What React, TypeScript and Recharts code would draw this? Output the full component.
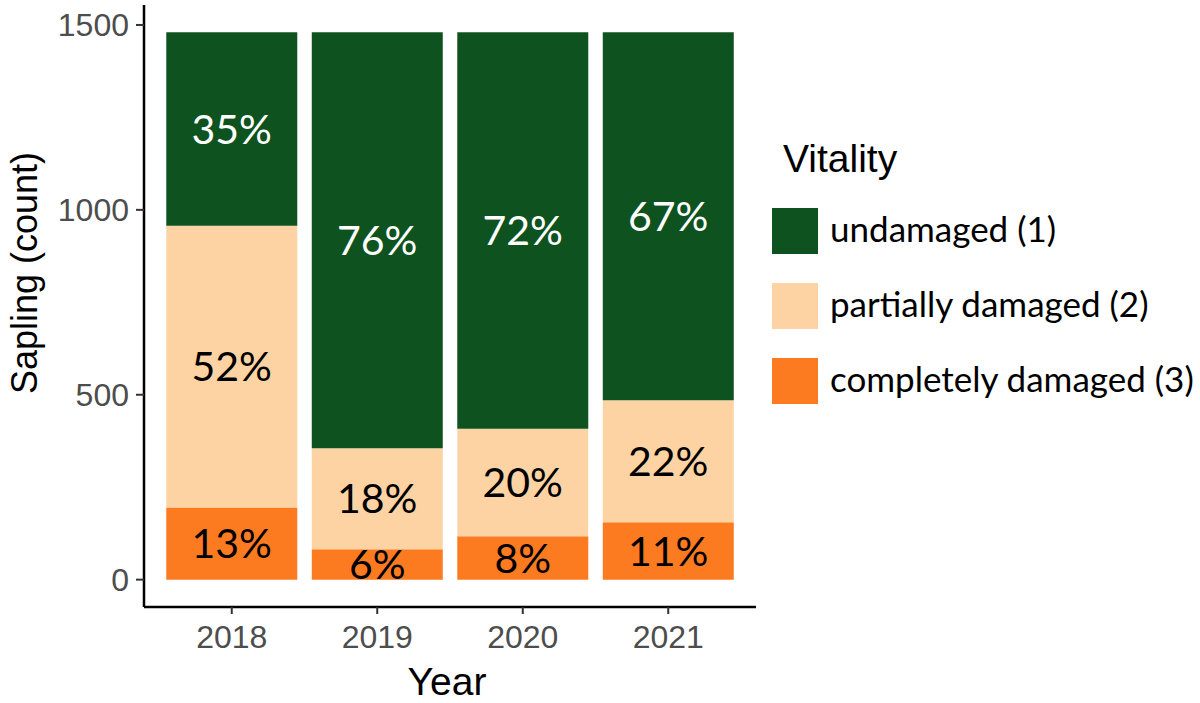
import React from 'react'
import { BarChart, Bar, XAxis, YAxis, LabelList } from 'recharts'

const years = ['2018', '2019', '2020', '2021']
const undamaged = [523, 1125, 1072, 995]
const partial = [762, 273, 291, 330]
const complete = [195, 82, 117, 155]
const undamagedPct = ['35%', '76%', '72%', '67%']
const partialPct = ['52%', '18%', '20%', '22%']
const completePct = ['13%', '6%', '8%', '11%']
const yTicks = [0, 500, 1000, 1500]

const GREEN = '#0E5220'
const PEACH = '#FDD3A3'
const ORANGE = '#FC7B21'

const legendItems = [
  { name: 'undamaged (1)', color: GREEN },
  { name: 'partially damaged (2)', color: PEACH },
  { name: 'completely damaged (3)', color: ORANGE },
]

const data = years.map((year, i) => ({
  year,
  undamaged: undamaged[i],
  partial: partial[i],
  complete: complete[i],
  uPct: undamagedPct[i],
  pPct: partialPct[i],
  cPct: completePct[i],
}))

const LABEL_FONT = 'Lato, "Open Sans", sans-serif'
const AXIS_FONT = '"Liberation Sans", Arial, sans-serif'

export default function App() {
  return (
    <div style={{ position: 'absolute', left: 0, top: 0, width: 1200, height: 703, background: '#fff' }}>
      <BarChart
        width={1200}
        height={703}
        data={data}
        margin={{ top: 5, right: 444, bottom: 0, left: 0 }}
        barCategoryGap="5%"
      >
        <XAxis
          dataKey="year"
          height={96}
          padding={{ left: 15, right: 15 }}
          axisLine={{ stroke: '#000', strokeWidth: 2.5 }}
          tickLine={{ stroke: '#333', strokeWidth: 2 }}
          tickSize={7}
          tickMargin={11}
          tick={{ fontSize: 32, fill: '#4D4D4D', fontFamily: AXIS_FONT }}
          label={{
            content: () => (
              <text x={447} y={695} textAnchor="middle" fontSize={39} fontFamily={AXIS_FONT} fill="#000">
                Year
              </text>
            ),
          }}
        />
        <YAxis
          width={144}
          domain={[-74, 1554]}
          allowDataOverflow
          ticks={yTicks}
          axisLine={{ stroke: '#000', strokeWidth: 2.5 }}
          tickLine={{ stroke: '#333', strokeWidth: 2 }}
          tickSize={8}
          tickMargin={7}
          tick={{ fontSize: 32, fill: '#4D4D4D', fontFamily: AXIS_FONT }}
          label={{
            content: () => (
              <text
                x={37}
                y={273}
                transform="rotate(-90 37 273)"
                textAnchor="middle"
                fontSize={36}
                fontFamily={AXIS_FONT}
                fill="#000"
              >
                Sapling (count)
              </text>
            ),
          }}
        />
        <Bar dataKey="complete" stackId="a" fill={ORANGE} isAnimationActive={false}>
          <LabelList dataKey="cPct" position="center" fill="#000" fontSize={41} fontFamily={LABEL_FONT} />
        </Bar>
        <Bar dataKey="partial" stackId="a" fill={PEACH} isAnimationActive={false}>
          <LabelList dataKey="pPct" position="center" fill="#000" fontSize={41} fontFamily={LABEL_FONT} />
        </Bar>
        <Bar dataKey="undamaged" stackId="a" fill={GREEN} isAnimationActive={false}>
          <LabelList dataKey="uPct" position="center" fill="#fff" fontSize={41} fontFamily={LABEL_FONT} />
        </Bar>
      </BarChart>

      {/* legend */}
      <svg width={430} height={300} style={{ position: 'absolute', left: 770, top: 130 }}>
        <text x={13} y={42} fontSize={39} fontFamily={AXIS_FONT} fill="#000">Vitality</text>
        {legendItems.map((it, i) => (
          <g key={it.name}>
            <rect x={2} y={78 + i * 75} width={46} height={46} fill={it.color} />
            <text x={60} y={112 + i * 75} fontSize={35} fontFamily={LABEL_FONT} fill="#000">
              {it.name}
            </text>
          </g>
        ))}
      </svg>
    </div>
  )
}
